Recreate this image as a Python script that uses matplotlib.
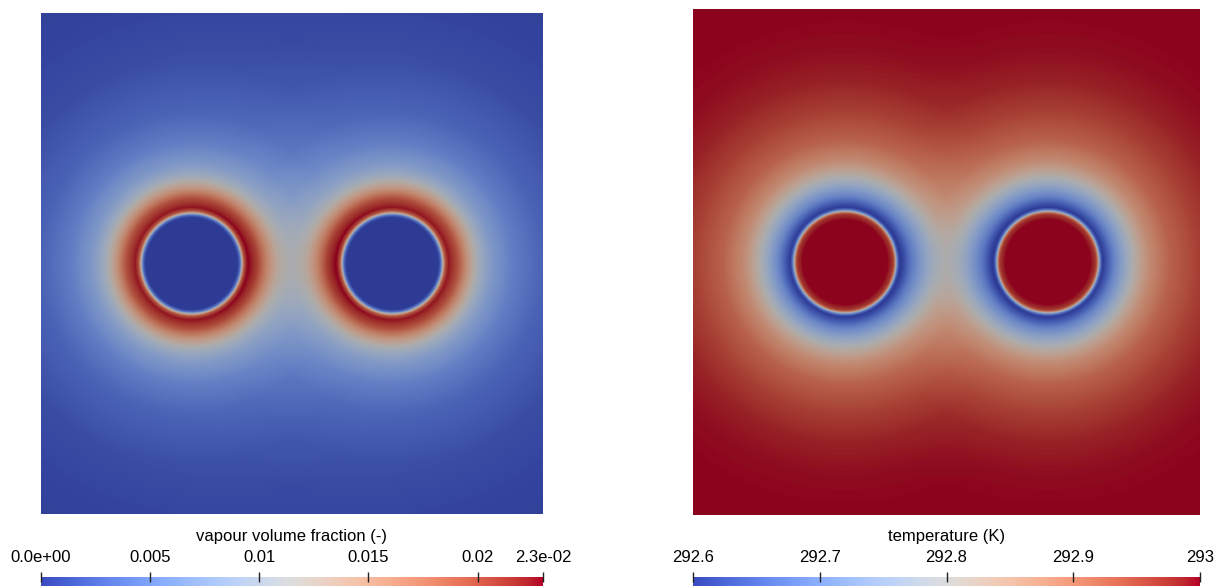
import numpy as np
import matplotlib
matplotlib.use('Agg')
import matplotlib.pyplot as plt
from matplotlib.colors import ListedColormap
from matplotlib.transforms import blended_transform_factory

# droplet geometry (domain is the unit square)
drop_x = [0.30, 0.70]
drop_y = [0.50, 0.50]
drop_r = 0.10

# radial profiles: distance from droplet surface -> value
vap_dist = [-0.10, -0.008, -0.003, 0.0, 0.005, 0.012, 0.03, 0.05, 0.07, 0.084, 0.10, 0.14, 0.20, 0.30, 0.40, 0.60, 1.0]
vap_val = [0.0, 0.0, 0.004, 0.011, 0.0195, 0.0225, 0.0198, 0.0148, 0.0106, 0.0087, 0.0071, 0.0047, 0.0027, 0.0012, 0.0006, 0.0002, 0.0]

temp_dist = [-0.10, -0.016, -0.006, -0.002, 0.0, 0.004, 0.008, 0.016, 0.030, 0.050, 0.075, 0.10, 0.14, 0.20, 0.26, 0.32, 0.40, 0.60, 1.0]
temp_drop = [0.0, 0.0, 0.03, 0.09, 0.20, 0.34, 0.40, 0.37, 0.31, 0.25, 0.18, 0.125, 0.075, 0.038, 0.014, 0.005, 0.0, 0.0, 0.0]
temp_far = 293.0

vap_ticks = [0.0, 0.005, 0.01, 0.015, 0.02, 0.023]
vap_labels = ['0.0e+00', '0.005', '0.01', '0.015', '0.02', '2.3e-02']
temp_ticks = [292.6, 292.7, 292.8, 292.9, 293.0]
temp_labels = ['292.6', '292.7', '292.8', '292.9', '293']

# build fields on a grid
n = 600
xs = (np.arange(n) + 0.5) / n
X, Y = np.meshgrid(xs, xs)
d = [np.hypot(X - cx, Y - cy) - drop_r for cx, cy in zip(drop_x, drop_y)]


def combine(a, b, p=1.5):
    return (a ** p + b ** p) ** (1.0 / p)


f1, f2 = [np.interp(di, vap_dist, vap_val) for di in d]
vap = combine(f1, f2)
vap = np.where(d[0] < 0, f1, np.where(d[1] < 0, f2, vap))

g1, g2 = [np.interp(di, temp_dist, temp_drop) for di in d]
dT = combine(g1, g2)
dT = np.where(d[0] < 0, g1, np.where(d[1] < 0, g2, dT))
temp = temp_far - dT

# paraview-like cool to warm, darkened a bit on the lit surface
base = plt.get_cmap('coolwarm')(np.linspace(0, 1, 256))
lit = base.copy()
lit[:, :3] *= 0.78
cmap_lit = ListedColormap(lit)
cmap_bar = ListedColormap(base)

fig = plt.figure(figsize=(12.26, 5.86), dpi=100)
W, H = 1226.0, 586.0

panels = [
    (vap, (41, 13, 543, 514), vap_ticks[0], vap_ticks[-1], vap_ticks, vap_labels, 'vapour volume fraction (-)'),
    (temp, (693, 9, 1200, 515), temp_ticks[0], temp_ticks[-1], temp_ticks, temp_labels, 'temperature (K)'),
]

for field, (x0, y0, x1, y1), vmin, vmax, ticks, labels, title in panels:
    ax = fig.add_axes([x0 / W, 1 - y1 / H, (x1 - x0) / W, (y1 - y0) / H])
    ax.imshow(field, origin='lower', extent=[0, 1, 0, 1], cmap=cmap_lit,
              vmin=vmin, vmax=vmax, interpolation='bilinear', aspect='auto')
    ax.set_axis_off()

    # colour bar, cut off by the bottom of the image like the reference
    bar_top = 577
    cax = fig.add_axes([x0 / W, 0, (x1 - x0) / W, (H - bar_top) / H])
    grad = np.linspace(vmin, vmax, 512)[None, :]
    cax.imshow(grad, extent=[vmin, vmax, 0, 1], cmap=cmap_bar, vmin=vmin, vmax=vmax,
               aspect='auto', interpolation='bilinear')
    cax.set_xlim(vmin, vmax)
    cax.set_axis_off()
    tr = blended_transform_factory(cax.transData, fig.transFigure)
    cax.vlines(ticks, 1 - 582 / H, 1 - 572 / H, color='#222222', lw=1.0,
               transform=tr, clip_on=False)
    for t, lab in zip(ticks, labels):
        cax.text(t, 1 - 558 / H, lab, transform=tr, ha='center', va='center',
                 fontsize=12, family='Liberation Sans', color='#000000')
    fig.text((x0 + x1) / 2 / W, 1 - 537 / H, title, ha='center', va='center',
             fontsize=12, family='Liberation Sans', color='#000000')

plt.savefig('out.png', dpi=100)
plt.close()
